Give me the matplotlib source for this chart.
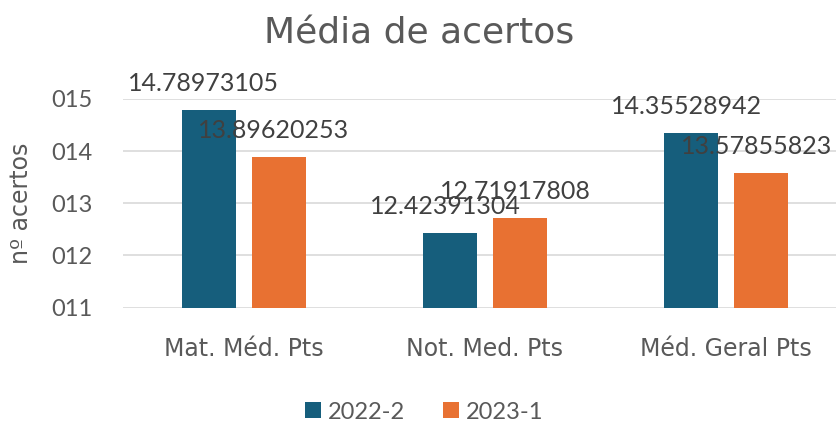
import matplotlib
matplotlib.use("Agg")
import matplotlib.pyplot as plt
from matplotlib.patches import Patch
import numpy as np

categories = ["Mat. Méd. Pts", "Not. Med. Pts", "Méd. Geral Pts"]
series_names = ["2022-2", "2023-1"]
vals_2022_2 = [14.78973105, 12.42391304, 14.35528942]
vals_2023_1 = [13.89620253, 12.71917808, 13.57855823]
label_2022_2 = ["14.78973105", "12.42391304", "14.35528942"]
label_2023_1 = ["13.89620253", "12.71917808", "13.57855823"]
yticks = [11, 12, 13, 14, 15]
ytick_labels = ["011", "012", "013", "014", "015"]

colors = ["#165E7C", "#E87132"]
txt = "#595959"
FONT = ["Lato", "DejaVu Sans"]
WIDE = ["DejaVu Sans"]
plt.rcParams["font.family"] = FONT

W, H = 837, 423
fig = plt.figure(figsize=(W / 100, H / 100), dpi=100)
ax = fig.add_axes([123 / W, (H - 307.5) / H, 724 / W, 208.5 / H])

x = np.arange(len(categories))
bw = 0.224
off = 0.145
for i, (vals, labs) in enumerate([(vals_2022_2, label_2022_2), (vals_2023_1, label_2023_1)]):
    pos = x + (-off if i == 0 else off)
    bars = ax.bar(pos, np.array(vals) - 11, bottom=11, width=bw, color=colors[i], zorder=3)
    for b, lab in zip(bars, labs):
        ax.annotate(lab, (b.get_x() + b.get_width() / 2, b.get_y() + b.get_height()),
                    xytext=(-5, 19), textcoords="offset pixels", ha="center", va="baseline",
                    fontsize=18, color="#404040", zorder=5, annotation_clip=False)

ax.set_xlim(-0.5, 2.5)
ax.set_ylim(11, 15)
ax.set_yticks(yticks)
ax.set_yticklabels(ytick_labels)
ax.set_xticks(x)
ax.set_xticklabels(categories, family=WIDE, fontsize=17)
ax.tick_params(axis="y", length=0, labelsize=17, labelcolor=txt, pad=22)
ax.tick_params(axis="x", length=0, labelcolor=txt, pad=21)
for s in ax.spines.values():
    s.set_visible(False)
ax.grid(axis="y", color="#D9D9D9", linewidth=1.2, zorder=0)
ax.set_axisbelow(True)

ax.set_ylabel("nº acertos", fontsize=17, color=txt, family=WIDE)
ax.yaxis.set_label_coords(-0.124, 0.5)

fig.text(0.5006, (H - 43) / H, "Média de acertos", ha="center", va="baseline",
         fontsize=26, color=txt, family=WIDE)

handles = [Patch(facecolor=c, edgecolor="none") for c in colors]
fig.legend(handles, series_names, loc="center", bbox_to_anchor=(0.507, (H - 412) / H),
           ncol=2, frameon=False, fontsize=17, labelcolor=txt,
           handlelength=0.68, handleheight=0.68, handletextpad=0.3, columnspacing=1.6)

fig.savefig("out.png", dpi=100)
